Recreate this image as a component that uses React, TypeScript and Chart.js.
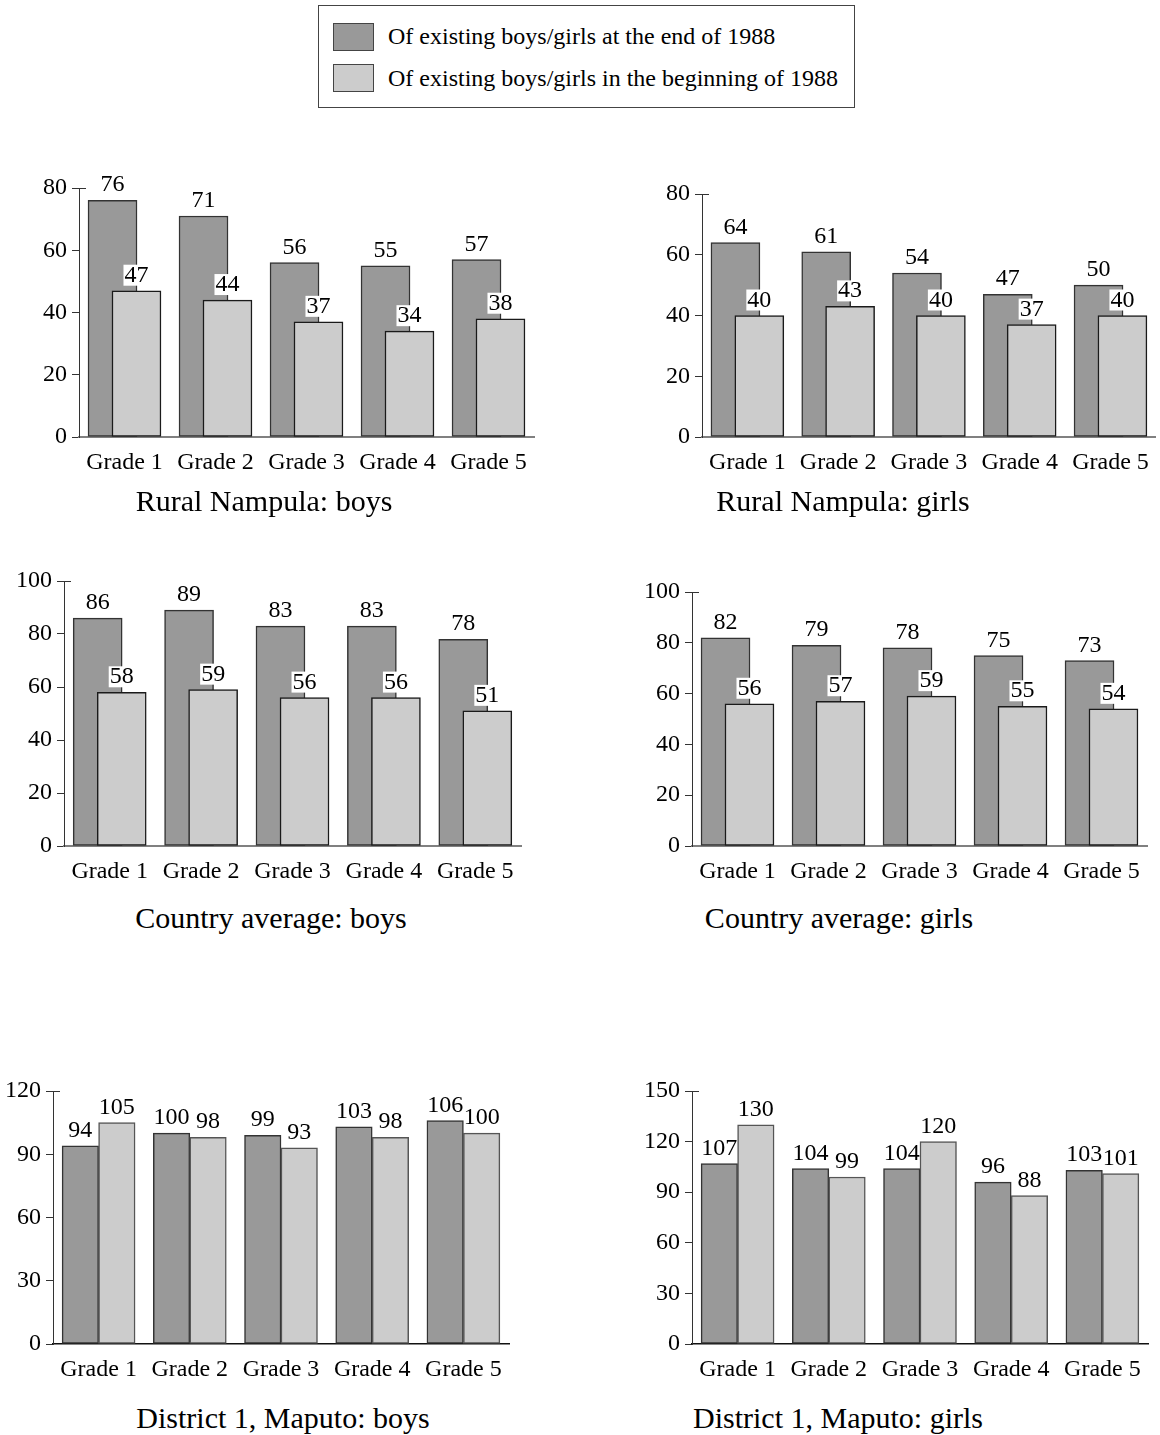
import React, { useEffect, useRef } from "react";
import { Chart, registerables } from "chart.js";

Chart.register(...registerables);

// ---------- data ----------
const GRADES = ["Grade 1", "Grade 2", "Grade 3", "Grade 4", "Grade 5"];
const LEGEND_END = "Of existing boys/girls at the end of 1988";
const LEGEND_BEGIN = "Of existing boys/girls in the beginning of 1988";

const nampulaBoysEnd = [76, 71, 56, 55, 57];
const nampulaBoysBegin = [47, 44, 37, 34, 38];
const nampulaGirlsEnd = [64, 61, 54, 47, 50];
const nampulaGirlsBegin = [40, 43, 40, 37, 40];

const countryBoysEnd = [86, 89, 83, 83, 78];
const countryBoysBegin = [58, 59, 56, 56, 51];
const countryGirlsEnd = [82, 79, 78, 75, 73];
const countryGirlsBegin = [56, 57, 59, 55, 54];

const maputoBoysEnd = [94, 100, 99, 103, 106];
const maputoBoysBegin = [105, 98, 93, 98, 100];
const maputoGirlsEnd = [107, 104, 104, 96, 103];
const maputoGirlsBegin = [130, 99, 120, 88, 101];

const ticks80 = [0, 20, 40, 60, 80];
const ticks100 = [0, 20, 40, 60, 80, 100];
const ticks120 = [0, 30, 60, 90, 120];
const ticks150 = [0, 30, 60, 90, 120, 150];

// ---------- styles ----------
const FONT = '"Liberation Serif", "Times New Roman", serif';
const DARK = "#999999";
const LIGHT = "#cccccc";

type Panel = {
  title: string;
  end: number[];
  begin: number[];
  yTicks: number[];
  overlap: boolean;
  canvasLeft: number;
  chartTop: number;
  chartBottom: number;
  axisX: number;
  chartRight: number;
  titleX: number;
  titleTop: number;
};

const PANELS: Panel[] = [
  { title: "Rural Nampula: boys", end: nampulaBoysEnd, begin: nampulaBoysBegin, yTicks: ticks80, overlap: true,
    canvasLeft: 0, chartTop: 188, chartBottom: 437, axisX: 79, chartRight: 534, titleX: 264, titleTop: 486 },
  { title: "Rural Nampula: girls", end: nampulaGirlsEnd, begin: nampulaGirlsBegin, yTicks: ticks80, overlap: true,
    canvasLeft: 580, chartTop: 194, chartBottom: 437, axisX: 702, chartRight: 1158, titleX: 843, titleTop: 486 },
  { title: "Country average: boys", end: countryBoysEnd, begin: countryBoysBegin, yTicks: ticks100, overlap: true,
    canvasLeft: 0, chartTop: 581, chartBottom: 846, axisX: 64, chartRight: 521, titleX: 271, titleTop: 903 },
  { title: "Country average: girls", end: countryGirlsEnd, begin: countryGirlsBegin, yTicks: ticks100, overlap: true,
    canvasLeft: 580, chartTop: 592, chartBottom: 846, axisX: 692, chartRight: 1147, titleX: 839, titleTop: 903 },
  { title: "District 1, Maputo: boys", end: maputoBoysEnd, begin: maputoBoysBegin, yTicks: ticks120, overlap: false,
    canvasLeft: 0, chartTop: 1091, chartBottom: 1344, axisX: 53, chartRight: 509, titleX: 283, titleTop: 1403 },
  { title: "District 1, Maputo: girls", end: maputoGirlsEnd, begin: maputoGirlsBegin, yTicks: ticks150, overlap: false,
    canvasLeft: 580, chartTop: 1091, chartBottom: 1344, axisX: 692, chartRight: 1148, titleX: 838, titleTop: 1403 },
];

const PAD_TOP = 30;
const X_AXIS_H = 50;
const CANVAS_W = 580;

function BarPanel({ p }: { p: Panel }) {
  const ref = useRef<HTMLCanvasElement>(null);
  const canvasTop = p.chartTop - PAD_TOP;
  const canvasH = p.chartBottom + X_AXIS_H - canvasTop;

  useEffect(() => {
    let chart: Chart | null = null;
    let cancelled = false;
    const off = p.overlap ? 0.1316 : 0.2;
    const thick = p.overlap ? 49 : 36.5;
    const yMax = p.yTicks[p.yTicks.length - 1];

    const labelsPlugin = {
      id: "valueLabels",
      afterDatasetsDraw(c: any) {
        const ctx = c.ctx;
        ctx.save();
        ctx.font = `24px ${FONT}`;
        ctx.textAlign = "center";
        ctx.textBaseline = "alphabetic";
        [0, 1].forEach((di) => {
          const meta = c.getDatasetMeta(di);
          const ds = c.data.datasets[di];
          meta.data.forEach((bar: any, i: number) => {
            const v = (ds.data[i] as any).y;
            const txt = String(v);
            const base = bar.y - 9;
            const w = ctx.measureText(txt).width;
            if (p.overlap && di === 1) {
              ctx.fillStyle = "#ffffff";
              ctx.fillRect(bar.x - w / 2 - 1, base - 17, w + 2, 21);
            }
            ctx.fillStyle = "#000000";
            ctx.fillText(txt, bar.x, base);
          });
        });
        const yTop = Math.round(c.scales.y.getPixelForValue(yMax)) + 0.5;
        ctx.strokeStyle = "#333333";
        ctx.lineWidth = 1;
        ctx.beginPath();
        ctx.moveTo(c.chartArea.left, yTop);
        ctx.lineTo(c.chartArea.left + 7, yTop);
        ctx.stroke();
        ctx.restore();
      },
    };

    const build = () => {
      if (cancelled || !ref.current) return;
      chart = new Chart(ref.current as HTMLCanvasElement, {
        type: "bar",
        data: {
          datasets: [
            {
              label: LEGEND_END,
              data: p.end.map((v, i) => ({ x: i + 1 - off, y: v })),
              backgroundColor: DARK,
              borderColor: "#333333",
              borderWidth: 1.5,
              borderSkipped: false,
              barThickness: thick,
              grouped: false,
              order: 1,
            } as any,
            {
              label: LEGEND_BEGIN,
              data: p.begin.map((v, i) => ({ x: i + 1 + off, y: v })),
              backgroundColor: LIGHT,
              borderColor: p.overlap ? "#1a1a1a" : "#555555",
              borderWidth: 1.5,
              borderSkipped: false,
              barThickness: thick,
              grouped: false,
              order: 0,
            } as any,
          ],
        },
        options: {
          animation: false,
          responsive: false,
          maintainAspectRatio: false,
          layout: { padding: { top: PAD_TOP, right: CANVAS_W - (p.chartRight - p.canvasLeft), left: 0, bottom: 0 } },
          plugins: { legend: { display: false }, tooltip: { enabled: false }, title: { display: false } },
          scales: {
            x: {
              type: "linear",
              offset: false,
              min: 0.5,
              max: 5.5,
              afterBuildTicks: (ax: any) => {
                ax.ticks = GRADES.map((_, i) => ({ value: i + 1 }));
              },
              afterFit: (s: any) => {
                s.height = X_AXIS_H;
              },
              ticks: {
                callback: (_v: any, idx: number) => GRADES[idx],
                font: { family: FONT, size: 24 },
                color: "#000000",
                padding: 11,
                autoSkip: false,
                maxRotation: 0,
                minRotation: 0,
              },
              grid: { display: false, drawTicks: false, offset: false },
              border: { display: true, color: p.overlap ? "#808080" : "#111111", width: p.overlap ? 2 : 1.5 },
            } as any,
            y: {
              min: 0,
              max: yMax,
              afterBuildTicks: (ax: any) => {
                ax.ticks = p.yTicks.map((v) => ({ value: v }));
              },
              afterFit: (s: any) => {
                s.width = p.axisX - p.canvasLeft;
              },
              ticks: {
                font: { family: FONT, size: 24 },
                color: "#000000",
                padding: 5,
              },
              grid: { drawOnChartArea: false, drawTicks: true, tickLength: 7, color: "#333333", lineWidth: 1 },
              border: { display: true, color: "#333333", width: 1 },
            } as any,
          },
        },
        plugins: [labelsPlugin],
      });
    };

    const fonts = (document as any).fonts;
    if (fonts && fonts.load) {
      fonts.load(`24px "Liberation Serif"`).then(build, build);
    } else {
      build();
    }
    return () => {
      cancelled = true;
      if (chart) chart.destroy();
    };
  }, [p]);

  return (
    <>
      <canvas
        ref={ref}
        width={CANVAS_W}
        height={canvasH}
        style={{ position: "absolute", left: p.canvasLeft, top: canvasTop, width: CANVAS_W, height: canvasH }}
      />
      <div
        style={{
          position: "absolute",
          left: p.titleX,
          top: p.titleTop,
          transform: "translateX(-50%)",
          whiteSpace: "nowrap",
          fontFamily: FONT,
          fontSize: 30,
          lineHeight: "30px",
          color: "#000",
        }}
      >
        {p.title}
      </div>
    </>
  );
}

function Legend() {
  const items = [
    { label: LEGEND_END, color: DARK, swTop: 23, textTop: 24 },
    { label: LEGEND_BEGIN, color: LIGHT, swTop: 64, textTop: 66 },
  ];
  return (
    <div
      style={{
        position: "absolute",
        left: 318,
        top: 5,
        width: 535,
        height: 101,
        border: "1px solid #444",
        background: "#fff",
      }}
    >
      {items.map((it) => (
        <React.Fragment key={it.label}>
          <div
            style={{
              position: "absolute",
              left: 333 - 319,
              top: it.swTop - 6,
              width: 39,
              height: 26,
              background: it.color,
              border: "1px solid #444",
            }}
          />
          <div
            style={{
              position: "absolute",
              left: 388 - 319,
              top: it.textTop - 6,
              fontFamily: FONT,
              fontSize: 24,
              lineHeight: "24px",
              whiteSpace: "nowrap",
              color: "#000",
            }}
          >
            {it.label}
          </div>
        </React.Fragment>
      ))}
    </div>
  );
}

export default function App() {
  return (
    <div style={{ position: "absolute", left: 0, top: 0, width: 1160, height: 1435, background: "#fff", overflow: "hidden" }}>
      <Legend />
      {PANELS.map((p) => (
        <BarPanel key={p.title} p={p} />
      ))}
    </div>
  );
}
